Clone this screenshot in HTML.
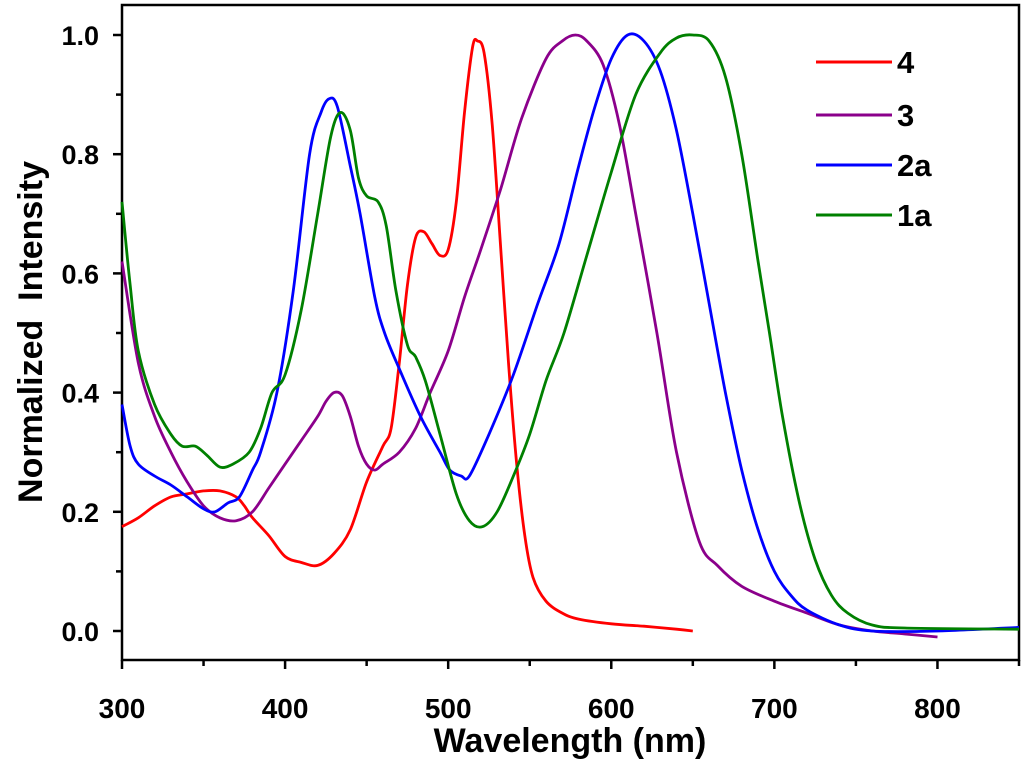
<!DOCTYPE html>
<html><head><meta charset="utf-8"><style>
body{margin:0;background:#fff}
svg{display:block;font-family:"Liberation Sans",Arial,sans-serif;font-weight:bold}
</style></head><body>
<svg id="chart" width="1024" height="766">
<g id="axes"></g>
<g id="series"></g>
<g id="legend"></g>
</svg>
<script>
const xTicks=[300,400,500,600,700,800];
const yTicks=[0.0,0.2,0.4,0.6,0.8,1.0];
const yTickLabels=["0.0","0.2","0.4","0.6","0.8","1.0"];
const seriesNames=["4","3","2a","1a"];
const seriesColors=["#ff0000","#8b008b","#0000ff","#008000"];
const s4x=[300,310,320,330,340,350,360,370,375,380,390,400,410,420,430,440,450,460,465,470,475,480,485,490,495,500,505,510,515,518,522,527,532,537,542,547,552,560,570,580,600,620,640,650];
const s4y=[0.175,0.19,0.21,0.225,0.23,0.235,0.235,0.225,0.21,0.19,0.16,0.125,0.115,0.11,0.13,0.17,0.25,0.31,0.34,0.45,0.58,0.66,0.67,0.65,0.63,0.64,0.72,0.87,0.98,0.99,0.97,0.85,0.65,0.45,0.28,0.16,0.09,0.05,0.03,0.02,0.012,0.008,0.003,0.0];
const s3x=[300,310,320,330,340,350,360,370,380,390,400,410,420,425,430,435,440,445,450,455,460,470,480,489,500,510,520,532,545,560,570,578,585,595,605,615,628,640,654,665,680,700,720,740,760,780,800];
const s3y=[0.62,0.45,0.36,0.3,0.25,0.21,0.19,0.185,0.2,0.24,0.28,0.32,0.36,0.385,0.4,0.395,0.36,0.31,0.28,0.27,0.28,0.3,0.34,0.4,0.47,0.56,0.64,0.74,0.86,0.96,0.99,1.0,0.99,0.95,0.85,0.7,0.5,0.3,0.15,0.11,0.075,0.05,0.03,0.01,0.0,-0.005,-0.01];
const s2x=[300,305,310,320,330,340,350,357,365,372,380,385,395,405,415,422,427,432,440,446,455,461,470,483,495,501,508,513,525,540,555,568,580,590,600,610,620,630,640,650,660,670,680,690,700,710,720,740,760,800,850];
const s2y=[0.38,0.31,0.28,0.26,0.245,0.225,0.205,0.2,0.215,0.225,0.27,0.3,0.4,0.57,0.8,0.87,0.893,0.88,0.78,0.7,0.56,0.5,0.44,0.36,0.3,0.27,0.26,0.26,0.33,0.43,0.55,0.65,0.78,0.88,0.96,1.0,0.99,0.94,0.84,0.7,0.55,0.4,0.27,0.17,0.1,0.06,0.035,0.01,0.0,0.0,0.006];
const s1x=[300,305,310,320,330,337,345,352,360,368,378,385,392,400,410,420,428,434,440,445,450,457,462,468,475,480,486,495,505,513,521,530,540,550,560,571,585,600,615,630,640,650,660,670,680,690,697,705,715,725,735,745,760,780,850];
const s1y=[0.72,0.58,0.47,0.38,0.33,0.31,0.31,0.295,0.275,0.28,0.3,0.34,0.4,0.43,0.54,0.7,0.83,0.87,0.84,0.76,0.73,0.72,0.68,0.57,0.48,0.46,0.42,0.33,0.23,0.185,0.175,0.2,0.26,0.33,0.42,0.5,0.63,0.77,0.9,0.97,0.995,1.0,0.99,0.93,0.8,0.62,0.5,0.36,0.22,0.12,0.06,0.03,0.01,0.005,0.003];
const allX=[s4x,s3x,s2x,s1x], allY=[s4y,s3y,s2y,s1y];
const L=122,R=1019,T=5,B=660;
const xs=v=>L+(v-300)*(R-L)/550;
const ys=v=>631-v*596;
const NS="http://www.w3.org/2000/svg";
function mk(p,tag,at){const e=document.createElementNS(NS,tag);for(const k in at)e.setAttribute(k,at[k]);p.appendChild(e);return e;}
function smooth(P){let d='M'+P[0][0].toFixed(1)+' '+P[0][1].toFixed(1);const t=0.16;
for(let i=0;i<P.length-1;i++){const p0=P[Math.max(0,i-1)],p1=P[i],p2=P[i+1],p3=P[Math.min(P.length-1,i+2)];
const c1=[p1[0]+(p2[0]-p0[0])*t,p1[1]+(p2[1]-p0[1])*t],c2=[p2[0]-(p3[0]-p1[0])*t,p2[1]-(p3[1]-p1[1])*t];
d+=' C'+c1.map(v=>v.toFixed(1)).join(' ')+' '+c2.map(v=>v.toFixed(1)).join(' ')+' '+p2.map(v=>v.toFixed(1)).join(' ');}
return d;}
const ax=document.getElementById('axes');
const frame=mk(ax,'rect',{x:L,y:T,width:R-L,height:B-T,fill:'none',stroke:'#000','stroke-width':2.5});


for(let v=300;v<=850;v+=50){const major=v%100===0;const t=mk(ax,'line',{x1:xs(v),x2:xs(v),y1:B,y2:B+(major?9:6),stroke:'#000','stroke-width':2.5});

}
xTicks.forEach(v=>{const t=mk(ax,'text',{x:xs(v),y:718,'text-anchor':'middle','font-size':28});t.textContent=v;

});
for(let i=0;i<=10;i++){const v=i/10;const t=mk(ax,'line',{x1:L,x2:L-(i%2===0?9:6),y1:ys(v),y2:ys(v),stroke:'#000','stroke-width':2.5});

}
yTicks.forEach((v,i)=>{const t=mk(ax,'text',{x:99,y:ys(v)+10,'text-anchor':'end','font-size':27});t.textContent=yTickLabels[i];

});
const xt=mk(ax,'text',{x:570,y:752,'text-anchor':'middle','font-size':34});xt.textContent='Wavelength (nm)';


const yt=mk(ax,'text',{x:0,y:0,'text-anchor':'middle','font-size':34,transform:'translate(42,332) rotate(-90)'});yt.textContent='Normalized\u00a0 Intensity';


const sg=document.getElementById('series');
allX.forEach((xa,k)=>{const P=xa.map((x,i)=>[xs(x),ys(allY[k][i])]);
const p=mk(sg,'path',{d:smooth(P),fill:'none',stroke:seriesColors[k],'stroke-width':2.8,'stroke-linejoin':'round'});

});
const lg=document.getElementById('legend');
const legY=[62,115,165,215];
seriesNames.forEach((n,k)=>{const l=mk(lg,'line',{x1:816,x2:892,y1:legY[k],y2:legY[k],stroke:seriesColors[k],'stroke-width':3});


const t=mk(lg,'text',{x:897,y:legY[k]+11,'font-size':31});t.textContent=n;

});
</script>
</body></html>
